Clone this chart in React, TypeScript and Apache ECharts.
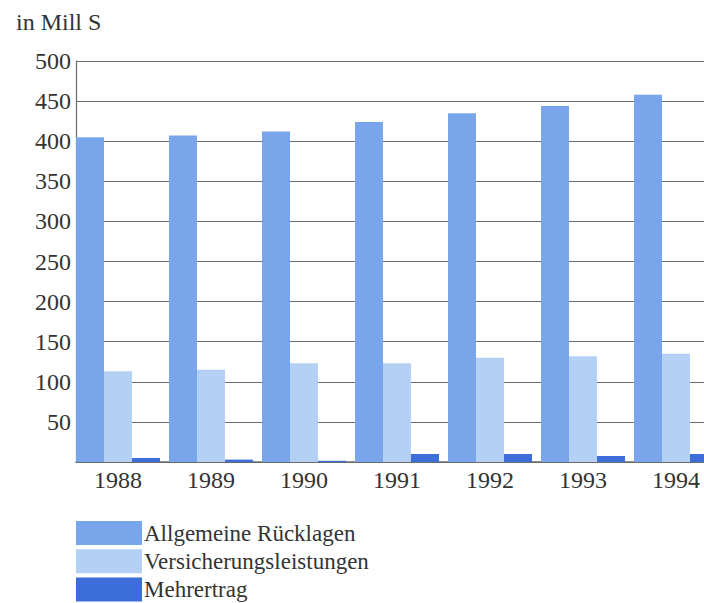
import React, { useEffect, useRef } from "react";
import * as echarts from "echarts";

const years = ["1988", "1989", "1990", "1991", "1992", "1993", "1994"];
const allgemeineRuecklagen = [405, 407, 412, 424, 435, 444, 458];
const versicherungsleistungen = [113, 115, 123, 123, 130, 132, 135];
const mehrertrag = [5, 3, 1.5, 10, 10, 7.5, 10];
const seriesNames = ["Allgemeine Rücklagen", "Versicherungsleistungen", "Mehrertrag"];
const colors = ["#79a6ea", "#b4d0f5", "#3d6dd8"];

const FONT = "Liberation Serif, serif";

export default function App() {
  const ref = useRef<HTMLDivElement>(null);
  useEffect(() => {
    if (!ref.current) return;
    const chart = echarts.init(ref.current, undefined, { renderer: "svg" });
    const gridTop = 61;
    const gridBottom = 141;
    chart.setOption({
      animation: false,
      backgroundColor: "#ffffff",
      textStyle: { fontFamily: FONT },
      title: {
        text: "in Mill S",
        left: 11,
        top: 5,
        textStyle: { fontFamily: FONT, fontSize: 24, fontWeight: "normal", color: "#333" },
      },
      legend: {
        orient: "vertical",
        left: 76,
        top: 521,
        icon: "rect",
        itemWidth: 66,
        itemHeight: 24,
        itemGap: 4.2,
        padding: 0,
        data: seriesNames,
        textStyle: { fontFamily: FONT, fontSize: 23, lineHeight: 24, color: "#333", padding: [0, 0, 0, -3] },
      },
      grid: [
        { left: 76, width: 646.5, top: gridTop, bottom: gridBottom, outerBoundsMode: "none", containLabel: false },
        { left: 71.5, width: 651, top: gridTop, bottom: gridBottom, outerBoundsMode: "none", containLabel: false },
      ],
      xAxis: [
        {
          gridIndex: 0,
          type: "category",
          data: years,
          axisLine: { show: true, lineStyle: { color: "#6b6b6b", width: 1.5 } },
          axisTick: { show: false },
          axisLabel: { show: false },
        },
        {
          gridIndex: 1,
          type: "category",
          data: years,
          axisLine: { show: false },
          axisTick: { show: false },
          axisLabel: { fontFamily: FONT, fontSize: 24, color: "#333", margin: 6 },
        },
      ],
      yAxis: [
        {
          gridIndex: 0,
          type: "value",
          min: 0,
          max: 500,
          interval: 50,
          axisLine: { show: true, lineStyle: { color: "#6b6b6b", width: 1.2 } },
          axisTick: { show: false },
          splitLine: { show: true, lineStyle: { color: "#6b6b6b", width: 1.2 } },
          axisLabel: { fontFamily: FONT, fontSize: 24, color: "#333", margin: 5, showMinLabel: false },
        },
        {
          gridIndex: 1,
          type: "value",
          min: 0,
          max: 500,
          interval: 50,
          show: false,
          splitLine: { show: false },
        },
      ],
      series: [
        { name: seriesNames[0], data: allgemeineRuecklagen, color: colors[0] },
        { name: seriesNames[1], data: versicherungsleistungen, color: colors[1] },
        { name: seriesNames[2], data: mehrertrag, color: colors[2] },
      ].map((s) => ({
        ...s,
        type: "bar",
        xAxisIndex: 1,
        yAxisIndex: 1,
        barGap: "0%",
        barCategoryGap: "9.7%",
        itemStyle: { color: s.color },
      })),
    });
    return () => chart.dispose();
  }, []);
  return (
    <div
      ref={ref}
      style={{ position: "absolute", left: 0, top: 0, width: 704, height: 603 }}
    />
  );
}
